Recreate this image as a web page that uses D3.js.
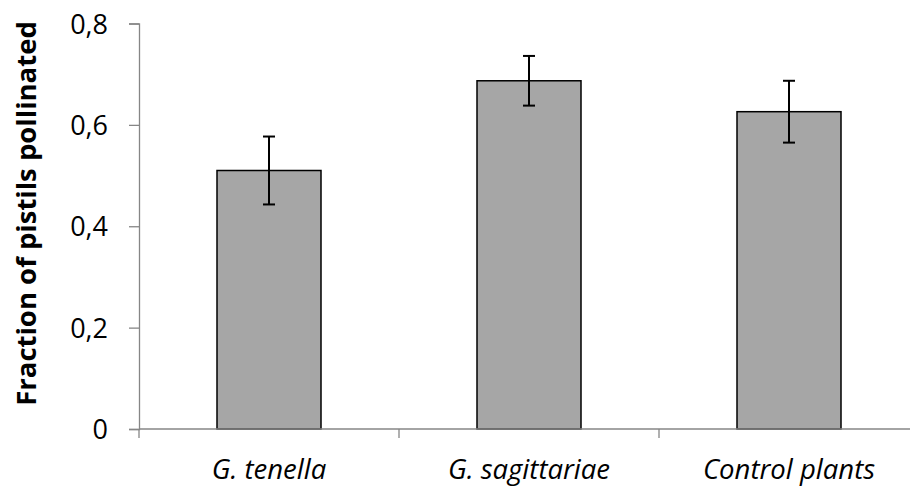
<!DOCTYPE html>
<html>
<head>
<meta charset="utf-8">
<script src="https://cdn.jsdelivr.net/npm/d3@7"></script>
<style>
  body { margin: 0; background: #fff; }
  .tick text { font-family: "Open Sans", sans-serif; }
</style>
</head>
<body>
<div class="barChart"></div>
<script>
var categories = ["G. tenella", "G. sagittariae", "Control plants"];
var fractions = [0.51, 0.687, 0.626];
var errors = [0.067, 0.049, 0.061];
var yTicks = [0, 0.2, 0.4, 0.6, 0.8];

var svgWidth = 911;
var svgHeight = 486;

var margin = { top: 23.5, right: -8, bottom: 57, left: 139 };
var width = svgWidth - margin.left - margin.right;
var height = svgHeight - margin.top - margin.bottom;

var svg = d3.select(".barChart")
  .append("svg")
  .attr("width", svgWidth)
  .attr("height", svgHeight);

var chartGroup = svg.append("g")
  .attr("transform", `translate(${margin.left}, ${margin.top})`);

var xBandScale = d3.scaleBand()
  .domain(categories)
  .range([0, width])
  .padding(0);

var yLinearScale = d3.scaleLinear()
  .domain([0, 0.8])
  .range([height, 0]);

var axisColor = "#868686";

// y axis
var leftAxis = d3.axisLeft(yLinearScale)
  .tickValues(yTicks)
  .tickSize(10)
  .tickPadding(21)
  .tickFormat(d => d === 0 ? "0" : d3.format(".1f")(d).replace(".", ","));

var yAxis = chartGroup.append("g").call(leftAxis);
yAxis.selectAll("path, line").attr("stroke", axisColor).attr("stroke-width", 1.3);
yAxis.selectAll("text")
  .style("font-size", "27px")
  .attr("fill", "#000")
  .attr("dy", "0.36em");

// bars
var barW = xBandScale.bandwidth() * 0.4;
chartGroup.selectAll("rect.bar")
  .data(categories)
  .enter()
  .append("rect")
  .classed("bar", true)
  .attr("x", d => xBandScale(d) + (xBandScale.bandwidth() - barW) / 2)
  .attr("y", (d, i) => yLinearScale(fractions[i]))
  .attr("width", barW)
  .attr("height", (d, i) => height - yLinearScale(fractions[i]))
  .attr("fill", "#a6a6a6")
  .attr("stroke", "#000")
  .attr("stroke-width", 1.5);

// x axis line and ticks at band edges
var xLimit = svgWidth - 1 - margin.left;
chartGroup.append("line")
  .attr("x1", 0).attr("x2", xLimit)
  .attr("y1", height).attr("y2", height)
  .attr("stroke", axisColor).attr("stroke-width", 1.3);

chartGroup.selectAll("line.xtick")
  .data(categories)
  .enter()
  .append("line")
  .classed("xtick", true)
  .attr("x1", d => xBandScale(d)).attr("x2", d => xBandScale(d))
  .attr("y1", height).attr("y2", height + 9)
  .attr("stroke", axisColor).attr("stroke-width", 1.3);

chartGroup.selectAll("text.xlabel")
  .data(categories)
  .enter()
  .append("text")
  .classed("xlabel", true)
  .attr("x", d => xBandScale(d) + xBandScale.bandwidth() / 2)
  .attr("y", height + 50)
  .attr("text-anchor", "middle")
  .style("font-family", "Open Sans, sans-serif")
  .style("font-style", "italic")
  .style("font-size", "27.5px")
  .text(d => d);

// error bars
var errGroup = chartGroup.append("g");
categories.forEach(function(c, i) {
  var cx = xBandScale(c) + xBandScale.bandwidth() / 2;
  var hi = yLinearScale(fractions[i] + errors[i]);
  var lo = yLinearScale(fractions[i] - errors[i]);
  errGroup.append("line")
    .attr("x1", cx).attr("x2", cx).attr("y1", hi).attr("y2", lo)
    .attr("stroke", "#000").attr("stroke-width", 2);
  [hi, lo].forEach(function(yy) {
    errGroup.append("line")
      .attr("x1", cx - 6).attr("x2", cx + 6).attr("y1", yy).attr("y2", yy)
      .attr("stroke", "#000").attr("stroke-width", 2);
  });
});

// y axis title
svg.append("text")
  .attr("transform", `translate(36, ${margin.top + 190}) rotate(-90)`)
  .attr("text-anchor", "middle")
  .style("font-family", "Open Sans, sans-serif")
  .style("font-weight", "bold")
  .style("font-size", "27.5px")
  .text("Fraction of pistils pollinated");
</script>
</body>
</html>
